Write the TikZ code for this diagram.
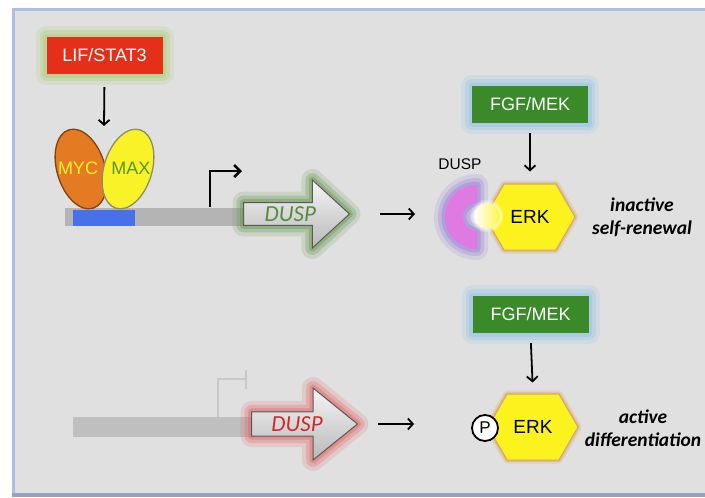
\documentclass[tikz,border=0pt]{standalone}
\usepackage{fontspec}
\setmainfont{Liberation Sans}
\newfontfamily\carlito{Carlito}
\usetikzlibrary{shapes.arrows,shapes.symbols,shapes.geometric,arrows.meta}

\definecolor{bgpanel}{RGB}{224,224,224}
\definecolor{panelframe}{RGB}{172,190,226}
\definecolor{panelbottom}{RGB}{150,162,196}
\definecolor{lifred}{RGB}{228,48,24}
\definecolor{lifglow}{RGB}{170,205,110}
\definecolor{fgfgreen}{RGB}{58,138,42}
\definecolor{fgfglow}{RGB}{140,195,230}
\definecolor{mycorange}{RGB}{228,122,34}
\definecolor{maxyellow}{RGB}{250,242,40}
\definecolor{maxgreen}{RGB}{90,150,40}
\definecolor{erkyellow}{RGB}{252,242,30}
\definecolor{erkglow}{RGB}{215,165,100}
\definecolor{dusppink}{RGB}{222,122,226}
\definecolor{duspglow}{RGB}{150,125,215}
\definecolor{eboxblue}{RGB}{72,112,232}
\definecolor{dnagray}{RGB}{180,180,180}
\definecolor{ghostgray}{RGB}{200,200,200}
\definecolor{onglow}{RGB}{100,150,75}
\definecolor{offglow}{RGB}{225,100,100}
\definecolor{duspgreen}{RGB}{85,140,60}
\definecolor{duspred}{RGB}{210,40,40}

\tikzset{
  glow/.style={
    preaction={draw=#1,draw opacity=.18,line width=22pt,line join=round,fill=none},
    preaction={draw=#1,draw opacity=.28,line width=14pt,line join=round,fill=none},
    preaction={draw=#1,draw opacity=.4,line width=7pt,line join=round,fill=none}},
  thinglow/.style={
    preaction={draw=#1,draw opacity=.25,line width=7pt,line join=round,fill=none},
    preaction={draw=#1,draw opacity=.4,line width=3.5pt,line join=round,fill=none}},
  sigbox/.style={rectangle,fill=#1,text=white,font=\fontsize{18}{20}\selectfont,
    minimum width=116pt,minimum height=37pt,inner sep=0pt},
  dnabar/.style={rectangle,fill=dnagray,anchor=west,inner sep=0pt},
  genearrow/.style={single arrow,anchor=tail,draw=gray!70!black,line width=1pt,
    top color=gray!8,bottom color=gray!55,single arrow head extend=16pt,
    single arrow tip angle=85,minimum height=106pt,minimum width=68pt,inner sep=0pt,
    font=\carlito\itshape\fontsize{23}{24}\selectfont},
  erkhex/.style={signal,signal to=west and east,signal pointer angle=120,
    fill=erkyellow,draw=erkglow,line width=1pt,minimum width=90pt,
    minimum height=66pt,inner sep=0pt,font=\fontsize{19}{20}\selectfont},
  fate/.style={font=\carlito\bfseries\itshape\fontsize{19.5}{23}\selectfont,align=center},
  flow/.style={-{Straight Barb[length=5pt,width=11pt]},line width=1.8pt},
  tss/.style={-{Straight Barb[length=6pt,width=12pt]},line width=2.6pt}
}

\begin{document}
\begin{tikzpicture}[x=1pt,y=-1pt]
  % panel
  \useasboundingbox (0,0) rectangle (705,498);
  \fill[white] (0,0) rectangle (705,498);
  \fill[bgpanel] (13,9) rectangle (705,494);
  \draw[panelframe,line width=3pt] (705,9.5) -- (13.5,9.5) -- (13.5,494);
  \draw[panelbottom,line width=4pt] (12,494.5) -- (705,494.5);

  % LIF/STAT3 drives MYC/MAX
  \node[sigbox=lifred,glow=lifglow] (lif) at (104.5,55.5) {LIF/STAT3};
  \coordinate (dimer) at (104,126);
  \draw[flow,shorten <=13pt] (lif.south) -- (dimer);

  \node[dnabar,minimum width=182pt,minimum height=18pt] (dna1) at (65,216.5) {};
  \node[dnabar,fill=eboxblue,minimum width=62pt,minimum height=16pt] (ebox) at (73,217.5) {};
  \node[ellipse,fill=mycorange,draw=mycorange!55!black,line width=1.3pt,
        minimum width=48pt,minimum height=82pt,rotate=17] (myc) at (81,169) {};
  \node[ellipse,fill=maxyellow,draw=gray!70!olive,line width=1.3pt,
        minimum width=48pt,minimum height=82pt,rotate=-17] (max) at (128,169) {};
  \node[text=maxyellow,font=\fontsize{18}{20}\selectfont] (myclab) at (78,168) {MYC};
  \node[text=maxgreen,font=\fontsize{18}{20}\selectfont] (maxlab) at (131,168) {MAX};

  % transcription on
  \coordinate (prom1) at (210,207);
  \coordinate (tss1) at (242,171);
  \draw[tss] (prom1) |- (tss1);
  \node[genearrow,glow=onglow,text=duspgreen] (dusp1) at (243,214) {DUSP};

  % DUSP holds ERK
  \coordinate (cc) at (477,217);
  \coordinate (dpase) at (445,217);
  \fill[dusppink,glow=duspglow] ([yshift=32pt]cc) arc[start angle=90,end angle=270,radius=32pt]
    -- ++(0,18pt) arc[start angle=270,end angle=90,radius=14pt] -- cycle;
  \node[erkhex,thinglow=erkglow] (erk1) at (530,217) {ERK};
  \node[circle,minimum size=26pt,inner sep=0pt,left color=white,
        right color=erkyellow!80!white,thinglow=white] (bead) at (487,216) {};
  \node[font=\fontsize{15.5}{17}\selectfont] (dusplab) at (460,164) {DUSP};
  \node[sigbox=fgfgreen,glow=fgfglow] (fgf1) at (530,104.5) {FGF/MEK};
  \draw[flow,shorten <=10pt,shorten >=12pt] (fgf1.south) -- (erk1.north);
  \draw[flow,shorten <=30pt,shorten >=30pt] (dusp1.tip) -- (dusp1.tip -| dpase);
  \node[fate] (fate1) at (642,217) {inactive\\self-renewal};

  % transcription off
  \node[dnabar,fill=dnagray!85!white,minimum width=180pt,minimum height=20pt] (dna2) at (73,427) {};
  \coordinate (prom2) at (218,417);
  \coordinate (stop2) at (247,379);
  \draw[ghostgray,line width=2.2pt,-{Bar[width=19pt]}] (prom2) |- (stop2);
  \node[genearrow,glow=offglow,text=duspred,single arrow tip angle=78,minimum width=72pt] (dusp2) at (251,424) {DUSP};

  % ERK free and phosphorylated
  \node[erkhex,thinglow=erkglow] (erk2) at (533,427) {ERK};
  \node[circle,draw,line width=1.8pt,fill=white,minimum size=26pt,inner sep=0pt,
        font=\fontsize{17}{18}\selectfont] (phos) at (485,428) {P};
  \node[sigbox=fgfgreen,glow=fgfglow] (fgf2) at (530.5,314.5) {FGF/MEK};
  \draw[flow,shorten <=10pt,shorten >=11pt] (fgf2.south) -- (erk2.north);
  \draw[flow,shorten <=20pt,shorten >=57pt] (dusp2.tip) -- (dusp2.tip -| phos.west);
  \node[fate] (fate2) at (643,428) {active\\differentiation};
\end{tikzpicture}
\end{document}
